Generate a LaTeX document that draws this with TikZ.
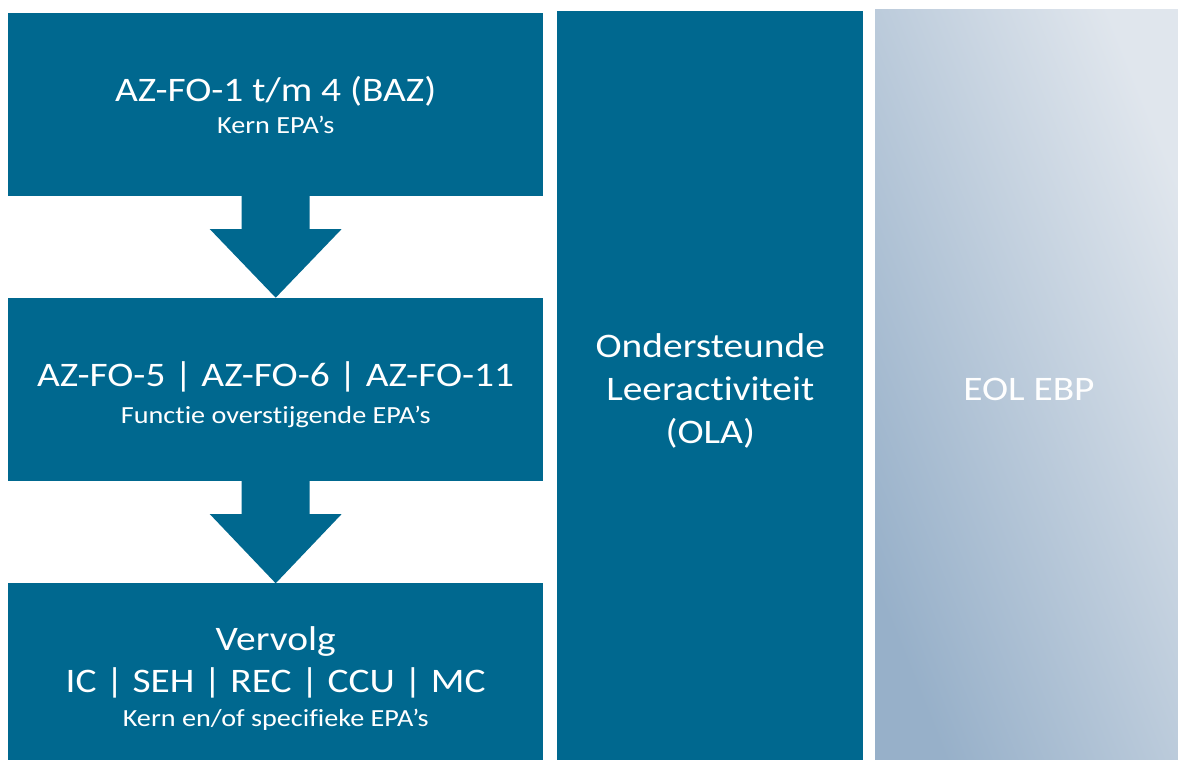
\documentclass[tikz,border=0pt]{standalone}
\usepackage{fontspec}
\setmainfont[FakeStretch=1.146,Ligatures={NoCommon}]{Carlito}
\usetikzlibrary{calc}
\definecolor{mainblue}{RGB}{0,104,143}
\definecolor{shadelight}{RGB}{224,230,237}
\definecolor{shadedark}{RGB}{151,176,201}
\begin{document}
\begin{tikzpicture}[x=1pt,y=-1pt,
  box/.style={draw=none,fill=mainblue,rectangle,inner sep=0pt,outer sep=0pt,anchor=north west},
  bigtxt/.style={text=white,inner sep=0pt,anchor=base,font=\fontsize{34.4}{40}\selectfont},
  smalltxt/.style={text=white,inner sep=0pt,anchor=base,font=\fontsize{24.6}{29}\selectfont},
  blockarrow/.style={fill=mainblue,draw=none}]
\useasboundingbox (0,0) rectangle (1178,760);
\fill[white] (0,0) rectangle (1178,760);
% left column boxes
\node[box,minimum width=534.6pt,minimum height=183pt] (b1) at (8.4,12.7) {};
\node[box,minimum width=534.6pt,minimum height=183pt] (b2) at (8.4,297.7) {};
\node[box,minimum width=534.6pt,minimum height=177pt] (b3) at (8.4,583.3) {};
% middle and right panels
\node[box,minimum width=306pt,minimum height=749pt] (ola) at (557.3,11.3) {};
\node[box,fill=none,shade,top color=shadelight,bottom color=shadedark,shading angle=-68,
      minimum width=303pt,minimum height=751pt] (eol) at (875,9.3) {};
% block arrows
\foreach \a/\b in {b1/b2,b2/b3}{
  \fill[blockarrow] ($(\a.south)+(-34,0)$) -- ($(\a.south)+(34,0)$)
    -- ($(\a.south)+(34,33.3)$) -- ($(\a.south)+(66,33.3)$)
    -- (\b.north) -- ($(\a.south)+(-66,33.3)$) -- ($(\a.south)+(-34,33.3)$) -- cycle;
}
% texts
\node[bigtxt] (t1a) at ($(b1.north)+(0,88.5)$) {AZ-FO-1 t/m 4 (BAZ)};
\node[smalltxt] (t1b) at ($(b1.north)+(0,120.5)$) {Kern EPA’s};
\node[bigtxt] (t2a) at ($(b2.north)+(0,89)$) {AZ-FO-5 | AZ-FO-6 | AZ-FO-11};
\node[smalltxt] (t2b) at ($(b2.north)+(0,125.5)$) {Functie overstijgende EPA’s};
\node[bigtxt] (t3a) at ($(b3.north)+(0,66.7)$) {Vervolg};
\node[bigtxt] (t3b) at ($(b3.north)+(0,108.7)$) {IC | SEH | REC | CCU | MC};
\node[smalltxt] (t3c) at ($(b3.north)+(0,143.5)$) {Kern en/of specifieke EPA’s};
\node[bigtxt] (o1) at ($(ola.north)+(0,346)$) {Ondersteunde};
\node[bigtxt] (o2) at ($(ola.north)+(0,389)$) {Leeractiviteit};
\node[bigtxt] (o3) at ($(ola.north)+(0,432)$) {(OLA)};
\node[bigtxt,text=white!96!shadelight] (e1) at ($(eol.north)+(2.5,390.7)$) {EOL EBP};
\end{tikzpicture}
\end{document}
